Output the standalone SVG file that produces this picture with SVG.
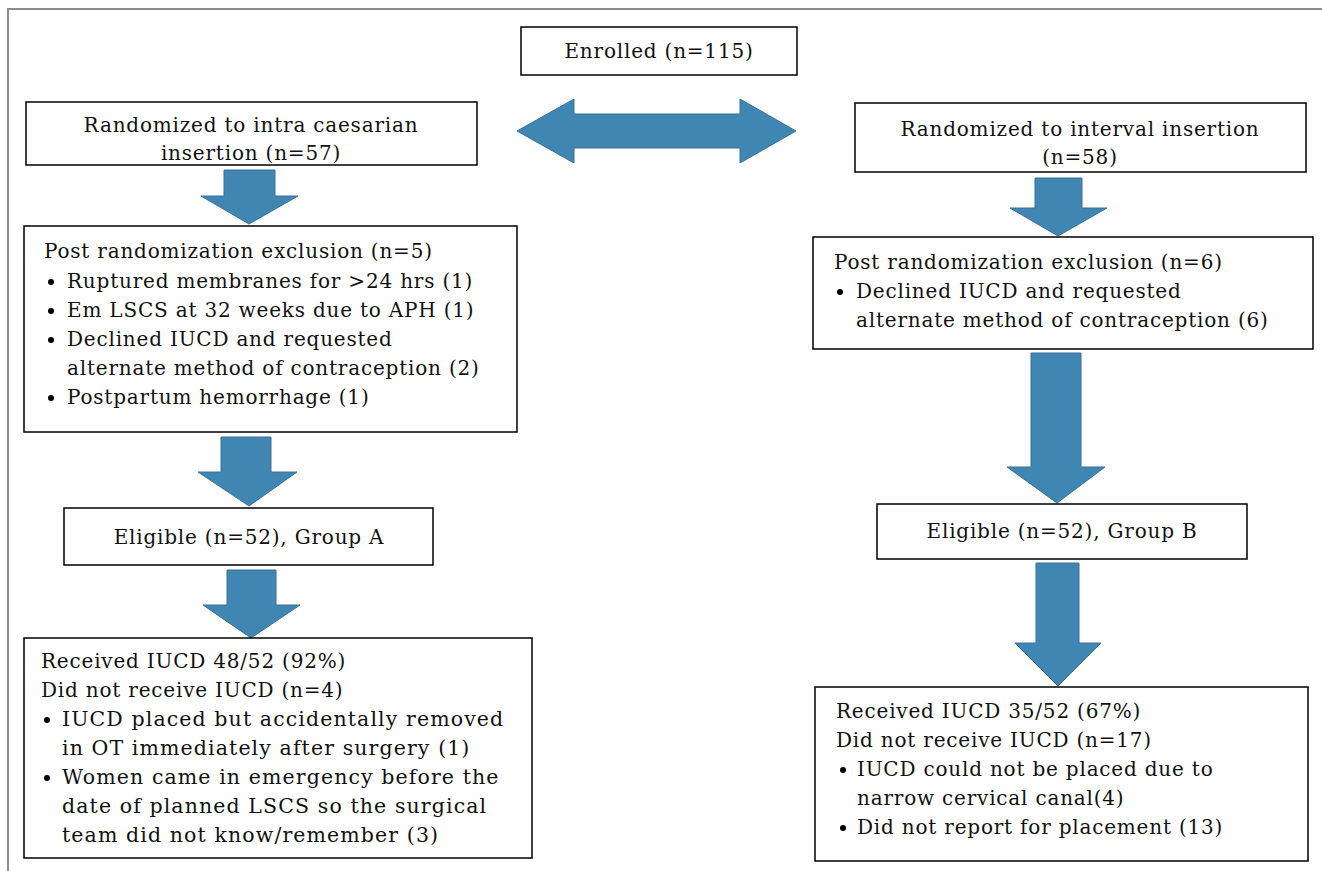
<svg xmlns="http://www.w3.org/2000/svg" width="1322" height="871" viewBox="0 0 1322 871">
<style>
.box{fill:#fff;stroke:#000;stroke-width:1.5}
.arr{fill:#4086b3;stroke:#3a7199;stroke-width:1}
.t{font-family:"DejaVu Serif","Liberation Serif",serif;font-size:20px;letter-spacing:0.8px;fill:#111}
.w{font-size:20.5px;letter-spacing:1.1px}
.c{text-anchor:middle}
.frame{fill:none;stroke:#8c8c8c;stroke-width:2}
</style>
<rect width="1322" height="871" fill="#fff"/>
<path class="frame" d="M8,871 V9 H1322"/>
<g id="connectors">
<polygon class="arr" points="517,131 574,99 574,114 740,114 740,99 796,131 740,163 740,148 574,148 574,163"/>
<polygon class="arr" points="224,170 275,170 275,196 298,196 249,224 201,196 224,196"/>
<polygon class="arr" points="221,437 271,437 271,472 297,472 249,506 198,472 221,472"/>
<polygon class="arr" points="227,570 276,570 276,605 300,605 251,638 203,605 227,605"/>
<polygon class="arr" points="1035,178 1082,178 1082,208 1107,208 1058,236 1010,208 1035,208"/>
<polygon class="arr" points="1031,353 1081,353 1081,467 1105,467 1057,503 1007,467 1031,467"/>
<polygon class="arr" points="1036,563 1079,563 1079,643 1101,643 1058,686 1015,643 1036,643"/>
</g>
<g id="enrolled">
<rect class="box" x="521" y="27" width="276" height="48"/>
<text class="t c" x="659" y="58">Enrolled (n=115)</text>
</g>
<g id="rand-intra">
<rect class="box" x="26" y="102" width="451" height="63"/>
<text class="t c" x="251" y="132">Randomized to intra caesarian</text>
<text class="t c" x="251" y="160">insertion (n=57)</text>
</g>
<g id="rand-interval">
<rect class="box" x="855" y="103" width="451" height="69"/>
<text class="t c" x="1080" y="136">Randomized to interval insertion</text>
<text class="t c" x="1080" y="164">(n=58)</text>
</g>
<g id="excl-a">
<rect class="box" x="24" y="226" width="493" height="206"/>
<text class="t" x="44" y="258">Post randomization exclusion (n=5)</text>
<circle cx="51" cy="282" r="3"/>
<text class="t" x="67" y="288">Ruptured membranes for &gt;24 hrs (1)</text>
<circle cx="51" cy="311" r="3"/>
<text class="t" x="67" y="317">Em LSCS at 32 weeks  due to APH (1)</text>
<circle cx="51" cy="340" r="3"/>
<text class="t" x="67" y="346">Declined IUCD  and requested</text>
<text class="t" x="67" y="375">alternate method  of contraception  (2)</text>
<circle cx="51" cy="398" r="3"/>
<text class="t" x="67" y="404">Postpartum hemorrhage (1)</text>
</g>
<g id="excl-b">
<rect class="box" x="813" y="237" width="500" height="112"/>
<text class="t" x="834" y="269">Post randomization exclusion (n=6)</text>
<circle cx="840" cy="292" r="3"/>
<text class="t" x="856" y="298">Declined IUCD  and requested</text>
<text class="t" x="856" y="327">alternate method  of contraception  (6)</text>
</g>
<g id="eligible-a">
<rect class="box" x="64" y="508" width="369" height="57"/>
<text class="t c" x="249" y="544">Eligible (n=52), Group A</text>
</g>
<g id="eligible-b">
<rect class="box" x="877" y="504" width="370" height="55"/>
<text class="t c" x="1062" y="538">Eligible (n=52), Group B</text>
</g>
<g id="received-a">
<rect class="box" x="24" y="638" width="508" height="220"/>
<text class="t" x="41" y="668">Received IUCD  48/52 (92%)</text>
<text class="t" x="41" y="697">Did not receive  IUCD  (n=4)</text>
<circle cx="47" cy="720" r="3"/>
<text class="t w" x="62" y="726">IUCD placed but accidentally removed</text>
<text class="t w" x="62" y="755">in OT immediately after surgery  (1)</text>
<circle cx="47" cy="778" r="3"/>
<text class="t w" x="62" y="784">Women came in emergency  before  the</text>
<text class="t w" x="62" y="813">date of planned LSCS so the surgical</text>
<text class="t w" x="62" y="842">team did not know/remember  (3)</text>
</g>
<g id="received-b">
<rect class="box" x="815" y="687" width="493" height="174"/>
<text class="t" x="836" y="718">Received IUCD  35/52 (67%)</text>
<text class="t" x="836" y="747">Did not receive  IUCD  (n=17)</text>
<circle cx="843" cy="770" r="3"/>
<text class="t" x="857" y="776">IUCD could not be placed due to</text>
<text class="t" x="857" y="805">narrow cervical canal(4)</text>
<circle cx="843" cy="828" r="3"/>
<text class="t" x="857" y="834">Did not report  for  placement (13)</text>
</g>
</svg>
